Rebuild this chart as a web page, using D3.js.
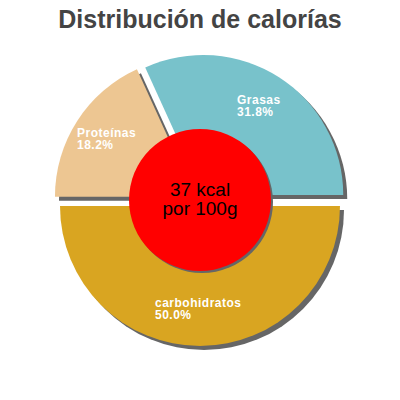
<!DOCTYPE html>
<html>
<head>
<meta charset="utf-8">
<script src="https://cdn.jsdelivr.net/npm/d3@7"></script>
<style>
  html, body { margin: 0; padding: 0; background: #fff; }
</style>
</head>
<body>
<div id="chart"></div>
<script>
// Calorie distribution data
const categories = ['carbohidratos', 'Proteínas', 'Grasas'];
const percents = [50.0, 18.2, 31.8];
const colors = ['#D9A521', '#EDC692', '#78C2CB'];
const centerLines = ['37 kcal', 'por 100g'];
const title = 'Distribución de calorías';

const width = 400, height = 400;
const cx = 200, cy = 200;
const radius = 140;
const explode = 6;

const svg = d3.select('#chart')
    .append('svg')
    .attr('width', width)
    .attr('height', height);

// Title
svg.append('text')
    .attr('x', width / 2)
    .attr('y', 28)
    .attr('text-anchor', 'middle')
    .attr('font-family', 'Liberation Sans, Arial, sans-serif')
    .attr('font-weight', 'bold')
    .attr('font-size', 25)
    .attr('fill', '#444')
    .text(title);

const data = categories.map((c, i) => ({ name: c, value: percents[i], color: colors[i] }));

// Start at 3 o'clock, going clockwise
const pie = d3.pie()
    .sort(null)
    .value(d => d.value)
    .startAngle(Math.PI / 2)
    .endAngle(Math.PI / 2 + 2 * Math.PI);

const arc = d3.arc().innerRadius(0).outerRadius(radius);
const arcs = pie(data);

function offset(d) {
    const a = (d.startAngle + d.endAngle) / 2;
    return [Math.sin(a) * explode, -Math.cos(a) * explode];
}

const g = svg.append('g').attr('transform', `translate(${cx},${cy})`);

// Shadows
g.selectAll('path.shadow')
    .data(arcs)
    .enter().append('path')
    .attr('class', 'shadow')
    .attr('d', arc)
    .attr('fill', '#666')
    .attr('transform', d => {
        const o = offset(d);
        return `translate(${o[0] + 4},${o[1] + 4})`;
    });

// Slices
g.selectAll('path.slice')
    .data(arcs)
    .enter().append('path')
    .attr('class', 'slice')
    .attr('d', arc)
    .attr('fill', d => d.data.color)
    .attr('transform', d => {
        const o = offset(d);
        return `translate(${o[0]},${o[1]})`;
    });

// Labels
const labelPos = {
    'Grasas': [237, 104],
    'Proteínas': [77, 137],
    'carbohidratos': [155, 307]
};

const labels = g.selectAll('text.label')
    .data(arcs)
    .enter().append('text')
    .attr('class', 'label')
    .attr('font-family', 'Liberation Sans, Arial, sans-serif')
    .attr('font-size', 12)
    .attr('font-weight', 'bold')
    .attr('letter-spacing', 0.5)
    .attr('fill', '#fff')
    .attr('x', d => labelPos[d.data.name][0] - cx)
    .attr('y', d => labelPos[d.data.name][1] - cy);

labels.append('tspan')
    .text(d => d.data.name);
labels.append('tspan')
    .attr('x', d => labelPos[d.data.name][0] - cx)
    .attr('dy', 12)
    .text(d => d.data.value.toFixed(1) + '%');

// Center circle
g.append('circle')
    .attr('cx', 2)
    .attr('cy', 2)
    .attr('r', 71)
    .attr('fill', '#666');
g.append('circle')
    .attr('r', 71)
    .attr('fill', '#FF0000');

g.selectAll('text.center')
    .data(centerLines)
    .enter().append('text')
    .attr('class', 'center')
    .attr('x', 0)
    .attr('y', (d, i) => -4 + i * 19)
    .attr('text-anchor', 'middle')
    .attr('font-family', 'Liberation Sans, Arial, sans-serif')
    .attr('font-size', 19)
    .attr('fill', '#000')
    .text(d => d);
</script>
</body>
</html>
